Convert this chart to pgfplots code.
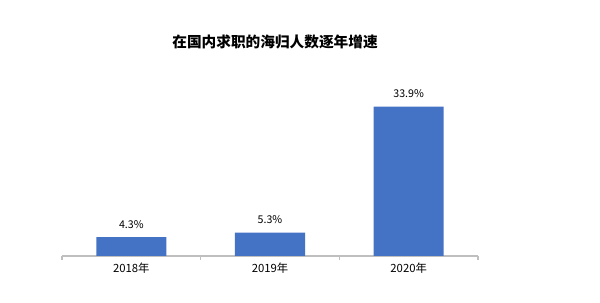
\documentclass[border=0pt]{standalone}
\usepackage{pgfplots}
\pgfplotsset{compat=1.18}
\usepackage{fontspec}
\setmainfont{Noto Sans CJK SC}
\definecolor{barblue}{RGB}{68,114,196}
\definecolor{axisgray}{RGB}{191,191,191}

\begin{document}
\begin{tikzpicture}[x=0.75pt,y=0.75pt]
\path[use as bounding box, fill=white] (0,0) rectangle (600,303);
\node[font=\fontsize{11}{13}\selectfont\bfseries] at (275,261) {在国内求职的海归人数逐年增速};
\begin{axis}[
    at={(46.5pt,35.25pt)}, anchor=south west,
    scale only axis,
    width=312pt, height=147pt,
    xmin=-0.5, xmax=2.5,
    ymin=0, ymax=44.5,
    axis x line=bottom,
    axis y line=none,
    x axis line style={-, draw=axisgray, line width=0.8pt},
    xtick={0,1,2},
    xticklabels={2018年,2019年,2020年},
    major tick length=0pt,
    minor xtick={-0.5,0.5,1.5,2.5},
    minor tick length=3pt,
    tick align=outside,
    minor tick style={draw=axisgray, line width=0.8pt},
    xticklabel style={font=\fontsize{8.5}{10}\selectfont, yshift=-2pt},
    ybar, bar width=52.5pt,
    /pgf/number format/assume math mode=true,
    nodes near coords={\pgfmathprintnumber[fixed,precision=1,fixed zerofill]{\pgfplotspointmeta}\%},
    nodes near coords style={font=\fontsize{8}{10}\selectfont, yshift=3pt},
    clip=false,
]
\addplot[fill=barblue, draw=none] coordinates {(0,4.3) (1,5.3) (2,33.9)};
\end{axis}
\end{tikzpicture}
\end{document}
